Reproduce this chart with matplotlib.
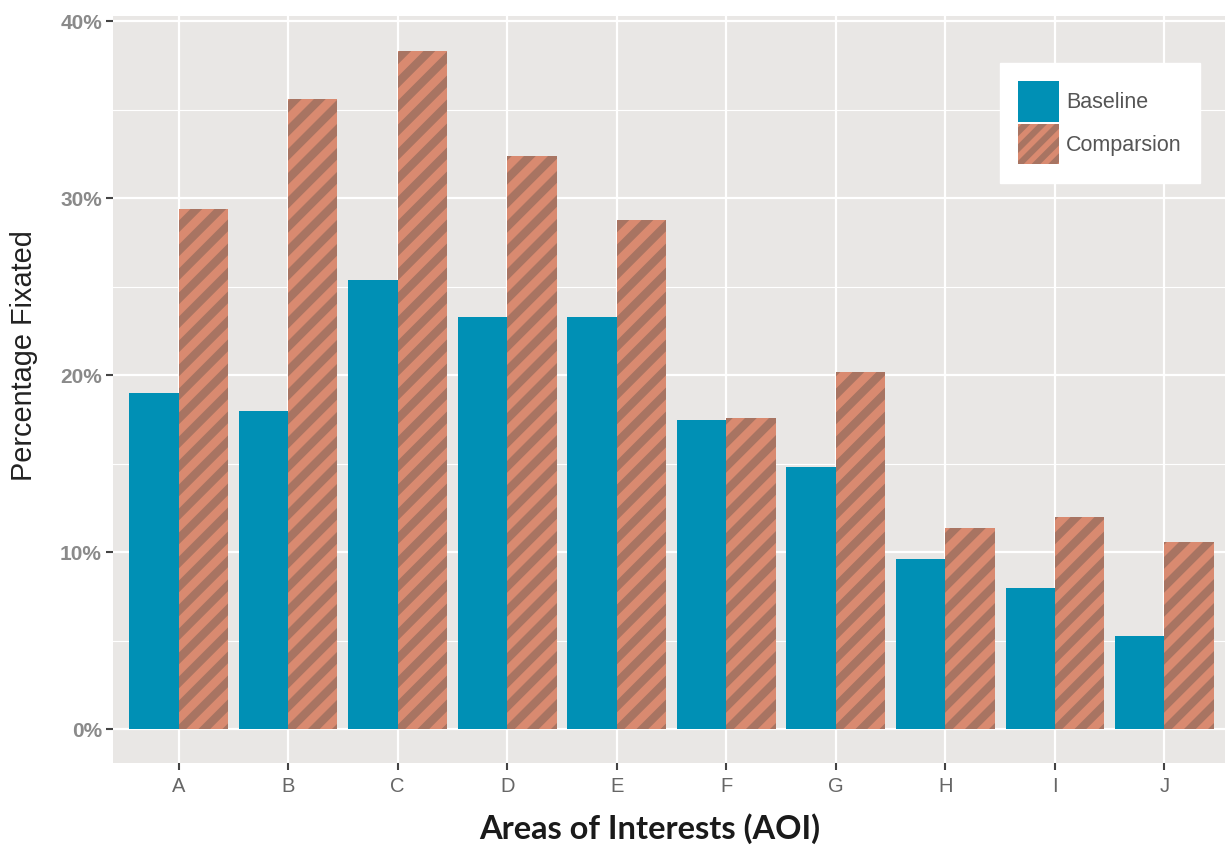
import matplotlib
matplotlib.use("Agg")
import matplotlib.pyplot as plt
import numpy as np
from matplotlib.collections import LineCollection
from matplotlib.patches import Patch
from matplotlib.transforms import IdentityTransform

categories = ["A", "B", "C", "D", "E", "F", "G", "H", "I", "J"]
baseline = [19.0, 18.0, 25.4, 23.3, 23.3, 17.5, 14.8, 9.6, 8.0, 5.3]
comparison = [29.4, 35.6, 38.3, 32.4, 28.8, 17.6, 20.2, 11.4, 12.0, 10.6]
yticks = [0, 10, 20, 30, 40]
ytick_labels = ["0%", "10%", "20%", "30%", "40%"]

teal = "#0090B5"
salmon = "#D98A70"
stripe = "#A87462"

plt.rcParams["font.family"] = ["Liberation Sans", "DejaVu Sans"]
plt.rcParams["hatch.linewidth"] = 4.5

fig = plt.figure(figsize=(12.25, 8.47), dpi=100)
ax = fig.add_axes([113 / 1225, 1 - 763 / 847, (1230 - 113) / 1225, (763 - 16) / 847])
ax.set_facecolor("#E9E7E5")

x = np.arange(len(categories))
w = 0.45
ax.set_xlim(-0.6, len(categories) - 0.4)
ax.set_ylim(-1.9, 40.3)

ax.bar(x - w / 2, baseline, width=w, color=teal, linewidth=0, zorder=3)
comp_bars = ax.bar(x + w / 2, comparison, width=w, facecolor=salmon, linewidth=0, zorder=3)

# diagonal stripes, drawn in pixel space and clipped to each bar
step = 24
for b in comp_bars:
    (x0, y0), (x1, y1) = ax.transData.transform(
        [(b.get_x(), b.get_y()), (b.get_x() + b.get_width(), b.get_y() + b.get_height())])
    offs = np.arange(y0 - x1 - step, y1 - x0 + step, step)
    segs = [[(x0 - 5, x0 - 5 + c), (x1 + 5, x1 + 5 + c)] for c in offs]
    lc = LineCollection(segs, colors=stripe, linewidths=6, capstyle="butt", zorder=4)
    ax.add_collection(lc, autolim=False)
    lc.set_transform(IdentityTransform())
    lc.set_clip_path(b)

ax.set_xticks(x)
ax.set_xticklabels(categories)
ax.set_yticks(yticks)
ax.set_yticklabels(ytick_labels)
ax.set_yticks([5, 15, 25, 35], minor=True)

ax.grid(True, which="major", color="white", linewidth=1.6, zorder=0)
ax.grid(True, which="minor", axis="y", color="white", linewidth=0.8, zorder=0)
ax.set_axisbelow(True)
for s in ax.spines.values():
    s.set_visible(False)

ax.tick_params(axis="both", which="major", length=5, width=1.5, color="#444444")
ax.tick_params(axis="y", which="minor", length=0)
ax.tick_params(axis="y", pad=3, labelsize=15, labelcolor="#8A8A8A")
ax.tick_params(axis="x", pad=5, labelsize=14.5, labelcolor="#666666")
for t in ax.get_yticklabels():
    t.set_fontweight("bold")

ax.set_ylabel("Percentage Fixated", fontsize=20.8, color="#222222")
ax.yaxis.set_label_coords((38 - 113) / 1117, (763 - 356) / 747)
ax.set_xlabel("Areas of Interests (AOI)", fontsize=23.5, fontweight="bold",
              family=["Lato", "DejaVu Sans"], color="#1A1A1A")
ax.xaxis.set_label_coords((650 - 113) / 1117, -0.067)

handles = [Patch(facecolor=teal, linewidth=0),
           Patch(facecolor=salmon, edgecolor=stripe, hatch="//", linewidth=0)]
leg = ax.legend(handles, ["Baseline", "Comparsion"], loc="upper left",
                bbox_to_anchor=(1000 / 1225, 1 - 63 / 847),
                bbox_transform=fig.transFigure, borderaxespad=0,
                fontsize=15.5, handlelength=1.9, handleheight=2.5,
                handletextpad=0.33, labelspacing=0.12, borderpad=0.85,
                fancybox=False, frameon=True)
leg.get_frame().set_facecolor("white")
leg.get_frame().set_edgecolor("white")
leg.get_frame().set_alpha(1)
leg.set_zorder(10)
for t in leg.get_texts():
    t.set_color("#555555")

fig.savefig("out.png", dpi=100)
